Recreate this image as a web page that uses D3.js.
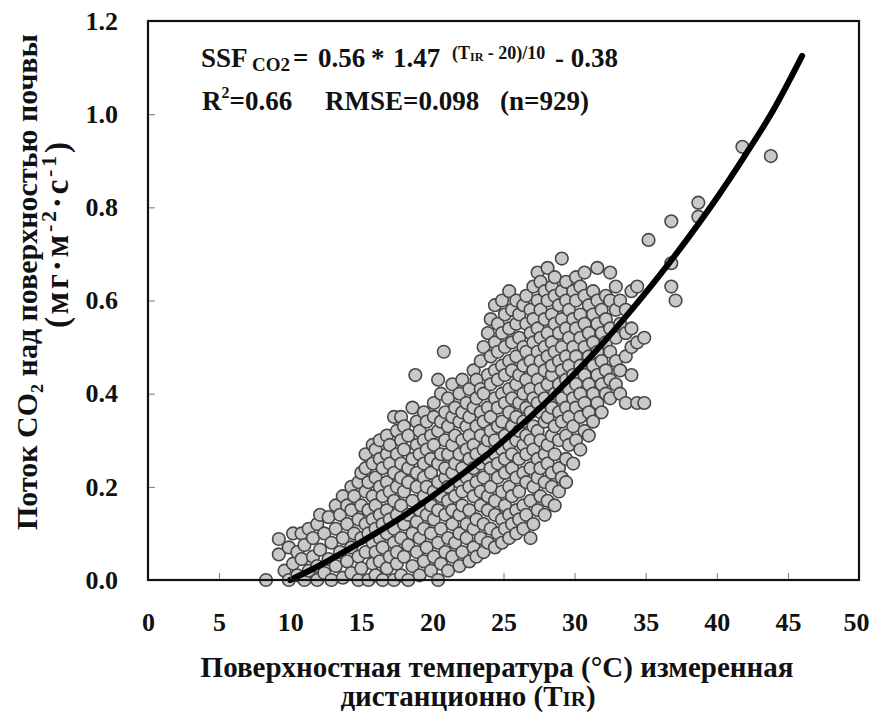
<!DOCTYPE html>
<html><head><meta charset="utf-8">
<script src="https://cdn.jsdelivr.net/npm/d3@7"></script>
<style>body{margin:0;background:#fff}svg{display:block}text{font-family:"Liberation Serif","Times New Roman",serif;font-weight:bold;fill:#111}</style>
</head><body>
<svg id="chart" width="871" height="715"></svg>
<script>
// ---- data ----
const xTicks = [0,5,10,15,20,25,30,35,40,45,50];
const yTicks = [0.0,0.2,0.4,0.6,0.8,1.0,1.2];
// fitted curve
const curveTemp = [10,12,14,16,18,20,22,24,26,28,30,32,34,36,38,40,42,44,46];
const curveFlux = [0.0,0.03,0.064,0.10,0.138,0.18,0.225,0.273,0.326,0.382,0.443,0.509,0.58,0.655,0.735,0.82,0.912,1.01,1.125];
// observations: [surface temperature, flux values observed at about that temperature]
const fluxRows = [
 [8.3,[0.0]],[9.2,[0.055,0.088]],[9.6,[0.02]],[9.9,[0.0,0.07]],[10.2,[0.035,0.1]],[10.5,[0.01,0.06]],
 [10.8,[0.045,0.1]],[11.0,[0.0,0.075]],[11.3,[0.02,0.11]],[11.6,[0.05,0.09]],[11.9,[0.0,0.03,0.12]],
 [12.1,[0.065,0.14]],[12.4,[0.015,0.1]],[12.7,[0.045,0.135]],[12.9,[0.0,0.08]],[13.2,[0.03,0.11,0.16]],
 [13.5,[0.06,0.14]],[13.7,[0.005,0.09,0.18]],[14.0,[0.04,0.12,0.16]],[14.3,[0.015,0.07,0.15,0.2]],
 [14.5,[0.1,0.18]],[14.8,[0.0,0.05,0.13,0.21]],[15.0,[0.025,0.09,0.16,0.23]],
 [15.3,[0.06,0.12,0.19,0.24,0.27]],[15.5,[0.0,0.1,0.15,0.21]],[15.8,[0.035,0.08,0.13,0.18,0.25,0.29]],
 [16.0,[0.01,0.06,0.11,0.16,0.22,0.28]],[16.3,[0.04,0.09,0.14,0.2,0.26,0.3]],[16.5,[0.0,0.07,0.12,0.18,0.24]],
 [16.8,[0.025,0.1,0.15,0.21,0.27,0.31]],[17.0,[0.05,0.13,0.19,0.25,0.29]],[17.3,[0.0,0.08,0.11,0.17,0.23,0.35]],
 [17.5,[0.035,0.06,0.14,0.2,0.27,0.32]],[17.8,[0.01,0.09,0.16,0.22,0.25,0.3,0.35]],[18.0,[0.05,0.12,0.19,0.28,0.33]],
 [18.3,[0.0,0.075,0.14,0.21,0.24,0.31]],[18.6,[0.03,0.1,0.17,0.26,0.37]],[18.8,[0.44]],
 [18.9,[0.06,0.125,0.2,0.23,0.29,0.34]],[19.1,[0.01,0.09,0.15,0.27,0.32]],[19.4,[0.04,0.11,0.18,0.22,0.25,0.3,0.36]],
 [19.6,[0.07,0.14,0.2,0.28,0.34]],[19.9,[0.02,0.1,0.16,0.23,0.26,0.31]],[20.1,[0.05,0.13,0.19,0.29,0.35,0.38]],
 [20.4,[0.0,0.08,0.15,0.21,0.25,0.32,0.43]],[20.6,[0.035,0.11,0.18,0.27,0.34,0.4]],[20.8,[0.49]],
 [20.9,[0.06,0.14,0.22,0.24,0.3,0.36]],[21.1,[0.02,0.09,0.17,0.2,0.27,0.33,0.39]],
 [21.4,[0.05,0.12,0.15,0.23,0.29,0.35,0.42]],[21.6,[0.08,0.18,0.25,0.31,0.37]],
 [21.9,[0.03,0.1,0.14,0.21,0.27,0.34,0.4]],[22.1,[0.06,0.16,0.19,0.24,0.3,0.36,0.43]],
 [22.4,[0.09,0.12,0.22,0.28,0.33,0.38]],[22.6,[0.04,0.15,0.2,0.26,0.31,0.35,0.41]],
 [22.9,[0.07,0.11,0.18,0.24,0.29,0.37,0.45]],[23.1,[0.05,0.13,0.21,0.27,0.33,0.39,0.43]],
 [23.4,[0.09,0.16,0.19,0.25,0.31,0.36,0.41,0.47]],[23.6,[0.06,0.12,0.22,0.28,0.34,0.4,0.5]],
 [23.9,[0.08,0.15,0.18,0.26,0.3,0.37,0.44,0.53]],[24.1,[0.11,0.2,0.24,0.32,0.35,0.42,0.48,0.56]],
 [24.4,[0.07,0.14,0.17,0.27,0.3,0.39,0.45,0.51,0.59]],[24.6,[0.1,0.22,0.25,0.33,0.37,0.43,0.49,0.55]],
 [24.9,[0.08,0.13,0.19,0.28,0.34,0.4,0.46,0.53,0.6]],[25.1,[0.11,0.16,0.23,0.26,0.31,0.38,0.44,0.5,0.57]],
 [25.4,[0.09,0.14,0.2,0.29,0.36,0.41,0.47,0.54,0.62]],[25.6,[0.12,0.18,0.24,0.27,0.33,0.39,0.45,0.51,0.58]],
 [25.9,[0.1,0.15,0.22,0.3,0.35,0.42,0.48,0.55,0.6]],[26.1,[0.13,0.19,0.26,0.32,0.38,0.44,0.52,0.57]],
 [26.4,[0.11,0.16,0.23,0.29,0.34,0.4,0.46,0.5,0.59]],[26.6,[0.14,0.21,0.27,0.31,0.37,0.43,0.49,0.55,0.61]],
 [26.9,[0.09,0.17,0.24,0.3,0.36,0.41,0.47,0.53,0.58]],[27.1,[0.12,0.2,0.28,0.33,0.39,0.45,0.51,0.56,0.63]],
 [27.4,[0.15,0.22,0.26,0.32,0.38,0.43,0.49,0.54,0.6,0.66]],[27.6,[0.18,0.24,0.3,0.36,0.41,0.47,0.52,0.58,0.64]],
 [27.9,[0.14,0.21,0.27,0.34,0.39,0.45,0.5,0.56,0.62]],[28.1,[0.17,0.25,0.29,0.35,0.42,0.48,0.53,0.6,0.67]],
 [28.4,[0.2,0.23,0.31,0.37,0.44,0.46,0.51,0.57,0.63]],[28.6,[0.16,0.27,0.33,0.4,0.49,0.55,0.61,0.65]],
 [28.9,[0.19,0.24,0.3,0.36,0.42,0.47,0.53,0.59]],[29.1,[0.69,0.22,0.34,0.39,0.45,0.5,0.56,0.62]],
 [29.4,[0.21,0.26,0.31,0.37,0.43,0.48,0.54,0.6,0.64]],[29.6,[0.29,0.35,0.41,0.46,0.52,0.58]],
 [29.9,[0.25,0.33,0.39,0.44,0.5,0.56,0.62]],[30.1,[0.3,0.37,0.42,0.48,0.54,0.6,0.65]],
 [30.4,[0.28,0.35,0.4,0.46,0.52,0.57,0.63]],[30.7,[0.32,0.38,0.44,0.5,0.55,0.61,0.66]],
 [31.0,[0.31,0.36,0.42,0.48,0.53,0.59]],[31.3,[0.34,0.4,0.46,0.51,0.57,0.62]],
 [31.6,[0.38,0.44,0.49,0.55,0.6,0.67]],[31.9,[0.36,0.42,0.47,0.53,0.58]],[32.2,[0.4,0.45,0.51,0.56,0.61]],
 [32.5,[0.39,0.43,0.49,0.54,0.6,0.66]],[32.9,[0.42,0.47,0.52,0.58,0.63]],[33.2,[0.4,0.45,0.55,0.6]],
 [33.6,[0.38,0.48,0.53,0.58]],[34.0,[0.44,0.5,0.54,0.62]],[34.4,[0.38,0.51,0.63]],[34.9,[0.52,0.38]],
 [35.2,[0.73]],[36.8,[0.63,0.68,0.77]],[37.1,[0.6]],[38.7,[0.78,0.81]],[41.8,[0.93]],[43.8,[0.91]]
];
const observations = fluxRows.flatMap(([t, vals]) => vals.map(v => ({t, v})));

// ---- drawing ----
const svg = d3.select("#chart");
svg.append("rect").attr("width",871).attr("height",715).attr("fill","#fff");
const x = d3.scaleLinear().domain([0,50]).range([148,859]);
const y = d3.scaleLinear().domain([0,1.2]).range([580,21]);

// points
svg.append("g").selectAll("circle").data(observations).join("circle")
  .attr("cx", d => x(d.t)).attr("cy", d => y(d.v)).attr("r", 6.3)
  .attr("fill","#c9c9c9").attr("stroke","#474747").attr("stroke-width",1.6);

// curve
const curve = curveTemp.map((t,i)=>({t, v:curveFlux[i]}));
svg.append("path").datum(curve)
  .attr("d", d3.line().x(d=>x(d.t)).y(d=>y(d.v)).curve(d3.curveMonotoneX))
  .attr("fill","none").attr("stroke","#000").attr("stroke-width",6).attr("stroke-linecap","round");

// axes
const xAxis = svg.append("g").attr("transform","translate(0,580)")
  .call(d3.axisBottom(x).tickValues(xTicks).tickFormat(d3.format("d")).tickSizeInner(-7).tickSizeOuter(0).tickPadding(33));
const yAxis = svg.append("g").attr("transform","translate(148,0)")
  .call(d3.axisLeft(y).tickValues(yTicks).tickFormat(d3.format(".1f")).tickSizeInner(-7).tickSizeOuter(0).tickPadding(30));
[xAxis,yAxis].forEach(a=>{
  a.select(".domain").remove();
  a.selectAll(".tick line").attr("stroke","#777").attr("stroke-width",1);
  a.selectAll(".tick text").attr("font-size",26).attr("font-family",null).attr("fill","#111");
});
xAxis.selectAll(".tick").filter(d=>d===0||d===50).select("line").remove();
xAxis.selectAll(".tick").filter(d=>d===50).select("text").attr("dx",-3);
yAxis.selectAll(".tick").filter(d=>d===0||d===1.2).select("line").remove();

// frame
svg.append("rect").attr("x",x(0)).attr("y",y(1.2)).attr("width",x(50)-x(0)).attr("height",y(0)-y(1.2))
  .attr("fill","none").attr("stroke","#111").attr("stroke-width",2.2);

// equation
const eq = svg.append("text").attr("y",67).attr("font-size",27);
eq.append("tspan").attr("x",201).text("SSF");
eq.append("tspan").attr("x",252).attr("font-size",19).attr("dy",4).text("CO2");
eq.append("tspan").attr("x",293).attr("dy",-4).text("=");
eq.append("tspan").attr("x",318).text("0.56");
eq.append("tspan").attr("x",371).text("*");
eq.append("tspan").attr("x",393).text("1.47");
eq.append("tspan").attr("x",452).attr("font-size",18).attr("dy",-8).text("(T");
eq.append("tspan").attr("font-size",12).attr("dy",2).text("IR");
eq.append("tspan").attr("font-size",18).attr("dy",-2).text(" - 20)/10");
eq.append("tspan").attr("x",555).attr("dy",8).text("- 0.38");

const st = svg.append("text").attr("y",110).attr("font-size",27);
st.append("tspan").attr("x",202).text("R");
st.append("tspan").attr("font-size",16).attr("dy",-12).text("2");
st.append("tspan").attr("dy",12).text("=0.66");
st.append("tspan").attr("x",325).text("RMSE=0.098");
st.append("tspan").attr("x",500).text("(n=929)");

// x title
svg.append("text").attr("x",497).attr("y",677).attr("text-anchor","middle").attr("font-size",29)
  .text("Поверхностная температура (°C) измеренная");
const xt2 = svg.append("text").attr("x",468).attr("y",706).attr("text-anchor","middle").attr("font-size",29);
xt2.append("tspan").text("дистанционно (T");
xt2.append("tspan").attr("font-size",21).text("IR");
xt2.append("tspan").text(")");

// y title
svg.append("text").attr("transform","translate(37,282) rotate(-90)").attr("text-anchor","middle").attr("font-size",30)
  .text("Поток CO₂ над поверхностью почвы");
const yt2 = svg.append("text").attr("transform","translate(68,235) rotate(-90)").attr("text-anchor","middle").attr("font-size",33)
  .attr("textLength",186).attr("lengthAdjust","spacing");
yt2.append("tspan").text("(мг·м");
yt2.append("tspan").attr("font-size",22).attr("dy",-12).text("-2");
yt2.append("tspan").attr("dy",12).text("·с");
yt2.append("tspan").attr("font-size",22).attr("dy",-12).text("-1");
yt2.append("tspan").attr("dy",12).text(")");
</script>
</body></html>
